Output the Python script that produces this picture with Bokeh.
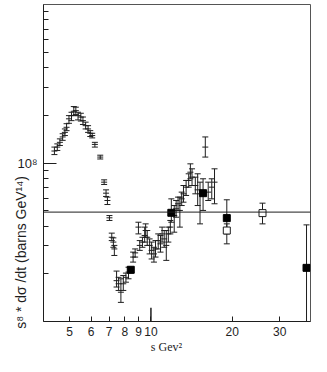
import math
from bokeh.plotting import figure
from bokeh.models import ColumnDataSource, FixedTicker, Span, Range1d
from bokeh.embed import file_html
from bokeh.resources import INLINE

Y_UNIT = 1e7  # values below are in units of 1e7

# small error-bar points (s in GeV^2)
s_pts = [4.39, 4.50, 4.60, 4.71, 4.80, 4.87, 4.97, 5.08, 5.18, 5.27, 5.37, 5.50, 5.60,
         5.73, 5.85, 5.96, 6.06, 6.20, 6.49, 6.71, 6.82, 6.90, 7.02, 7.16, 7.26, 7.32,
         7.46, 7.59, 7.74, 7.90, 8.08, 8.26, 8.59, 8.74, 8.99, 9.09, 9.30, 9.48, 9.56,
         9.69, 9.89, 10.06, 10.26, 10.40, 10.64, 10.85, 11.0, 11.2, 11.4, 11.6, 11.8,
         12.2, 12.4, 12.6, 12.8, 13.0, 13.2, 13.5, 13.8, 14.0, 14.2, 14.6, 14.9, 15.2,
         15.9, 16.3, 16.8, 17.2]
y_pts = [11.9, 12.6, 13.5, 14.6, 15.6, 16.8, 19.0, 19.9, 21.2, 21.4, 19.9, 19.5, 18.5,
         17.2, 16.4, 15.4, 14.9, 13.1, 10.9, 7.57, 6.45, 5.80, 4.51, 3.40, 3.17, 2.87,
         1.81, 1.73, 1.53, 1.73, 1.90, 2.05, 2.55, 2.71, 3.94, 3.02, 3.17, 3.49, 3.75,
         3.40, 3.02, 2.81, 2.67, 2.87, 3.24, 3.09, 3.57, 3.32, 3.02, 3.57, 3.94,
         4.66, 5.14, 5.53, 5.02, 5.94, 6.39, 7.04, 7.76, 8.75, 8.14, 7.21, 6.77, 6.39,
         12.6, 6.55, 7.04, 7.57]
y_lo = [11.3, 12.0, 12.9, 13.9, 14.9, 16.0, 17.8, 18.5, 19.9, 20.2, 18.7, 18.4, 17.5,
        16.4, 15.6, 14.7, 14.4, 12.6, 10.6, 7.32, 6.15, 5.47, 4.34, 3.24, 2.94, 2.61,
        1.65, 1.57, 1.32, 1.57, 1.77, 1.86, 2.37, 2.55, 3.57, 2.81, 2.94, 3.17, 3.40,
        3.02, 2.67, 2.48, 2.37, 2.55, 2.87, 2.74, 3.17, 2.94, 2.43, 3.17, 3.57,
        3.66, 4.55, 5.02, 3.94, 5.39, 5.66, 6.24, 7.04, 7.95, 7.21, 6.39, 5.39, 4.13,
        10.9, 5.80, 5.94, 5.53]
y_hi = [12.6, 13.2, 14.2, 15.3, 16.4, 17.7, 19.9, 20.9, 22.7, 22.5, 20.9, 20.6, 19.5,
        18.1, 17.2, 16.0, 15.4, 13.5, 11.2, 7.83, 6.77, 6.09, 4.66, 3.61, 3.37, 3.02,
        2.08, 1.90, 1.86, 1.95, 2.02, 2.20, 2.74, 2.87, 4.23, 3.24, 3.40, 3.94, 4.13,
        3.75, 3.32, 3.17, 2.94, 3.24, 3.57, 3.49, 3.94, 3.75, 3.75, 3.94, 4.34,
        5.39, 5.80, 6.09, 6.09, 6.55, 7.21, 7.76, 8.55, 9.88, 9.19, 8.14, 8.55, 7.57,
        14.6, 7.57, 7.95, 9.19]

# filled squares
s_filled = [8.42, 11.9, 15.6, 19.1, 37.7]
y_filled = [2.12, 4.85, 6.45, 4.49, 2.18]
lo_filled = [2.02, 4.23, 5.02, 3.57, 0.8]
hi_filled = [2.20, 5.94, 7.95, 5.86, 4.07]

# open squares
s_open = [19.1, 25.9]
y_open = [3.75, 4.83]
lo_open = [3.09, 4.13]
hi_open = [4.13, 5.58]

ref_level = 4.9  # horizontal reference line
x_tick_vals = [5, 6, 7, 8, 9, 10, 20, 30]
y_major = [1e8]
y_minor = [2e7, 3e7, 4e7, 5e7, 6e7, 7e7, 8e7, 9e7, 2e8, 3e8, 4e8, 5e8, 6e8, 7e8, 8e8, 9e8]
decade_x = [10]

INK = "#1e1e1e"
NBSP = "\u00a0"

def scaled(v):
    return [a * Y_UNIT for a in v]

p = figure(width=311, height=356, x_axis_type="log", y_axis_type="log",
           x_range=Range1d(4.0, 39.0), y_range=Range1d(1e7, 1e9),
           output_backend="svg", toolbar_location=None,
           min_border_left=43, min_border_right=1, min_border_top=4, min_border_bottom=35)
p.grid.visible = False
p.outline_line_color = "#555555"
p.outline_line_width = 1
p.background_fill_color = "white"
p.border_fill_color = "white"

for ax in (p.xaxis[0], p.yaxis[0]):
    ax.axis_line_color = INK
    ax.major_tick_line_color = INK
    ax.minor_tick_line_color = INK
    ax.major_tick_out = 0
    ax.minor_tick_out = 0
    ax.major_label_text_font = "Liberation Sans"
    ax.major_label_text_font_size = "12px"
    ax.major_label_text_color = INK

p.xaxis.ticker = FixedTicker(ticks=x_tick_vals, minor_ticks=[])
p.xaxis.major_tick_in = 5
p.xaxis.major_label_standoff = 5
p.xaxis.major_label_overrides = {float(t): str(t) for t in x_tick_vals}
p.xaxis.axis_label = "s  Gev\u00b2" + NBSP * 6
p.xaxis.axis_label_text_font = "Liberation Serif"
p.xaxis.axis_label_text_font_style = "normal"
p.xaxis.axis_label_text_font_size = "12px"
p.xaxis.axis_label_text_color = INK
p.xaxis.axis_label_standoff = 1

p.yaxis.ticker = FixedTicker(ticks=y_major, minor_ticks=y_minor)
p.yaxis.major_tick_in = 13
p.yaxis.minor_tick_in = 5
p.yaxis.major_label_standoff = 6
p.yaxis.major_label_overrides = {1e8: "10\u2078"}
p.yaxis.major_label_text_font_size = "13px"
p.yaxis.axis_label = "s\u2078 * d\u03c3 /dt (barns  GeV\u00b9\u2074)" + NBSP * 45
p.yaxis.axis_label_text_font = "Liberation Sans"
p.yaxis.axis_label_text_font_style = "normal"
p.yaxis.axis_label_text_font_size = "14px"
p.yaxis.axis_label_text_color = INK
p.yaxis.axis_label_standoff = -14

p.add_layout(Span(location=ref_level * Y_UNIT, dimension="width", line_color=INK, line_width=1))

p.segment(x0=decade_x, y0=[1e7] * len(decade_x), x1=decade_x, y1=[1.22e7] * len(decade_x),
          line_color=INK, line_width=1.5)

def errbars(s, y, lo, hi, cap=6):
    src = ColumnDataSource(dict(s=s, y=scaled(y), lo=scaled(lo), hi=scaled(hi)))
    p.segment(x0="s", y0="lo", x1="s", y1="hi", source=src, line_color=INK, line_width=1)
    p.scatter(x="s", y="lo", source=src, marker="dash", size=cap, line_color=INK, line_width=1)
    p.scatter(x="s", y="hi", source=src, marker="dash", size=cap, line_color=INK, line_width=1)
    return src

src_pts = errbars(s_pts, y_pts, y_lo, y_hi)
p.scatter(x="s", y="y", source=src_pts, marker="dash", size=6, line_color=INK, line_width=1)

src_f = errbars(s_filled, y_filled, lo_filled, hi_filled)
p.scatter(x="s", y="y", source=src_f, marker="square", size=7, fill_color="black", line_color="black")

src_o = errbars(s_open, y_open, lo_open, hi_open)
p.scatter(x="s", y="y", source=src_o, marker="square", size=7, fill_color="white", line_color=INK, line_width=1)

open("out.html", "w").write(file_html(p, INLINE))
